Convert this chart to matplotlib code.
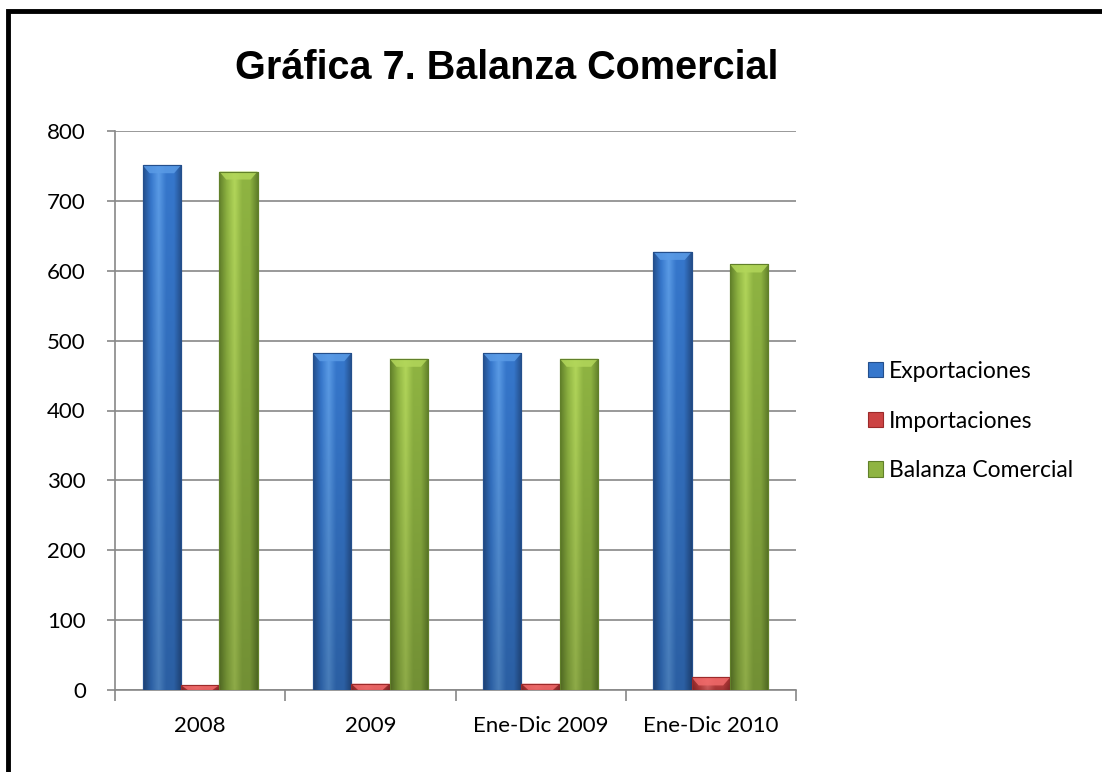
import matplotlib
matplotlib.use("Agg")
import matplotlib.pyplot as plt
import numpy as np
from matplotlib.patches import Rectangle
from matplotlib.colors import LinearSegmentedColormap

categories = ["2008", "2009", "Ene-Dic 2009", "Ene-Dic 2010"]
exportaciones = [751, 482, 482, 627]
importaciones = [7, 9, 9, 18]
balanza = [742, 474, 474, 609]
series_names = ["Exportaciones", "Importaciones", "Balanza Comercial"]
yticks = [0, 100, 200, 300, 400, 500, 600, 700, 800]

palettes = [
    ("#244f8c", "#5a9be6", "#3677cc"),
    ("#9c2a2a", "#ef6a6a", "#cc4444"),
    ("#61802a", "#b2d65a", "#8fb442"),
]

font = "Lato"
fig = plt.figure(figsize=(11.02, 7.72), dpi=100)
ax = fig.add_axes([115/1102, 1-690/772, (796-115)/1102, (690-131)/772])

x = np.arange(len(categories))
w = 0.225
offsets = [-w, 0, w]
data = [exportaciones, importaciones, balanza]

for s, (vals, off, pal) in enumerate(zip(data, offsets, palettes)):
    dark, light, mid = pal
    cmap = LinearSegmentedColormap.from_list("c%d" % s, [dark, mid, light, mid, mid, dark])
    grad = np.linspace(0, 1, 64).reshape(1, -1)
    bars = ax.bar(x + off, vals, width=w, color=mid, edgecolor=dark, linewidth=0.8,
                  label=series_names[s], zorder=3)
    for b in bars:
        bx, by = b.get_x(), b.get_y()
        bw, bh = b.get_width(), b.get_height()
        rgba = cmap(np.repeat(grad, 64, axis=0))
        shade = np.linspace(1.0, 0.8, 64).reshape(-1, 1, 1)
        rgba[..., :3] = rgba[..., :3] * shade
        im = ax.imshow(rgba, extent=[bx, bx + bw, by, by + bh], aspect="auto",
                       origin="upper", zorder=3.5, interpolation="bilinear")
        im.set_clip_path(b)
        bev = min(bh, 8 / 0.699)
        ax.fill([bx, bx + bw, bx + bw - bw * 0.18, bx + bw * 0.18],
                [by + bh, by + bh, by + bh - bev, by + bh - bev],
                color=light, alpha=0.85, zorder=4, linewidth=0)
        ax.add_patch(Rectangle((bx, by), bw, bh, fill=False, edgecolor=dark,
                               linewidth=0.8, zorder=4.5))

ax.set_xlim(-0.5, len(categories) - 0.5)
ax.set_ylim(0, 800)
ax.set_yticks(yticks)
ax.set_yticklabels([str(t) for t in yticks], fontsize=16, fontfamily=font)
ax.set_xticks(x)
ax.set_xticklabels(categories, fontsize=16, fontfamily=font)
ax.set_xticks(np.arange(-0.5, len(categories)), minor=True)
ax.tick_params(axis="x", which="major", length=0, pad=19)
ax.tick_params(axis="x", which="minor", length=8, color="#888888", width=1.2)
ax.tick_params(axis="y", length=6, color="#888888", width=1.2, pad=15)
ax.grid(axis="y", color="#888888", linewidth=1.2, zorder=0)
for sp in ["top", "right"]:
    ax.spines[sp].set_visible(False)
ax.spines["left"].set_color("#888888")
ax.spines["bottom"].set_color("#888888")
ax.spines["left"].set_linewidth(1.2)
ax.spines["bottom"].set_linewidth(1.2)

fig.text(507/1102, 1-68/772, "Gráfica 7. Balanza Comercial", ha="center", va="center",
         fontsize=28.5, fontweight="bold", fontfamily="Liberation Sans")

leg = ax.legend(loc="center left", bbox_to_anchor=(868/1102, 1-421/772),
                bbox_transform=fig.transFigure, frameon=False, borderpad=0, borderaxespad=0,
                prop={"family": font, "size": 16.5}, handlelength=0.65, handleheight=0.65,
                handletextpad=0.25, labelspacing=1.25)

fig.patches.append(Rectangle((8/1102, -0.1), 1.2, 1 - 11/772 + 0.1, transform=fig.transFigure,
                             fill=False, edgecolor="black", linewidth=3.5))

fig.savefig("out.png", dpi=100)
